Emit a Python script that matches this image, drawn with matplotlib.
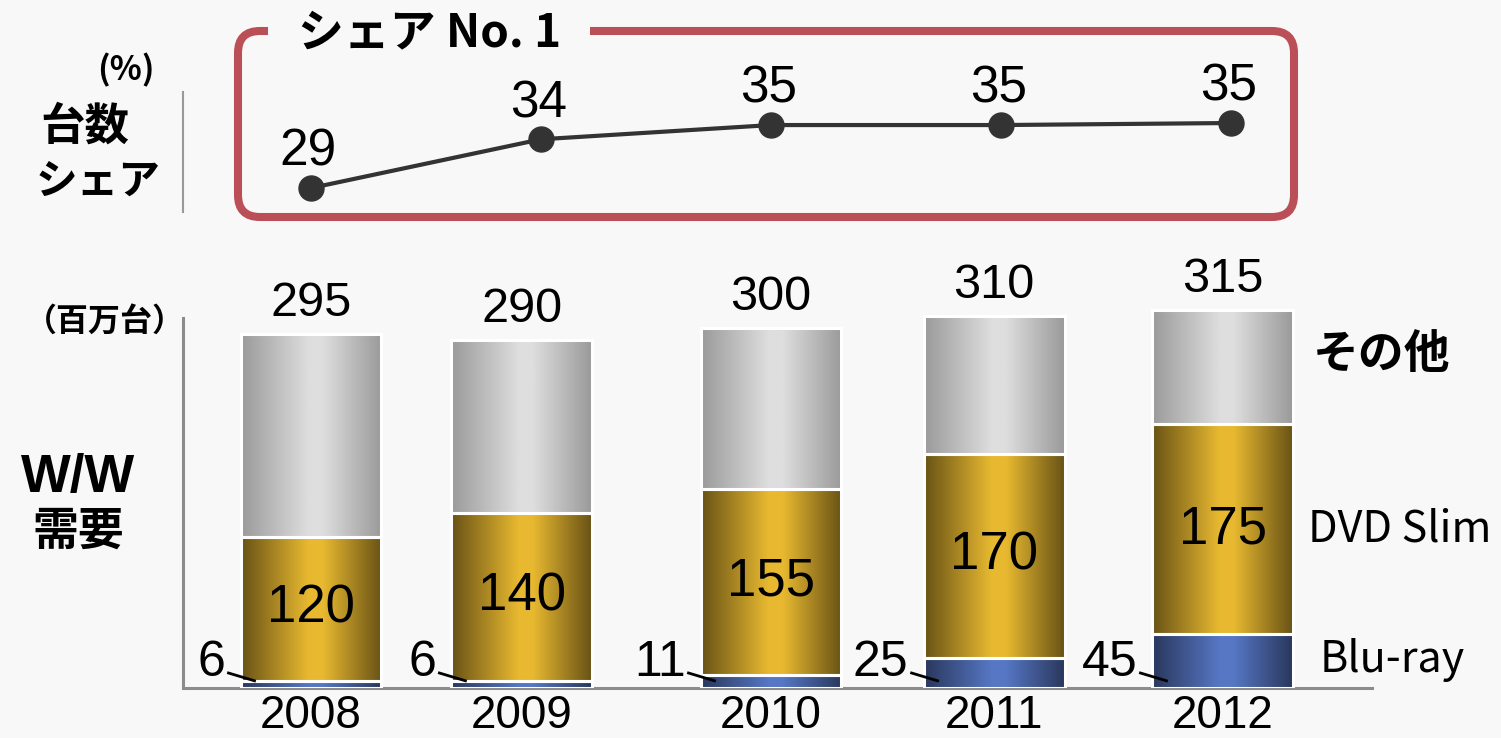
import numpy as np
import matplotlib
matplotlib.use('Agg')
import matplotlib.pyplot as plt
from matplotlib.colors import LinearSegmentedColormap
from matplotlib.patches import FancyBboxPatch, Rectangle
from matplotlib.lines import Line2D
from matplotlib.transforms import IdentityTransform

# data
years = ['2008', '2009', '2010', '2011', '2012']
share = [29.0, 33.8, 35.2, 35.2, 35.4]          # unit share (%)
bluray = [6, 6, 11, 25, 45]                      # million units
dvd_slim = [120, 140, 155, 170, 175]
total = [295, 290, 300, 310, 315]
others = [t - b - d for t, b, d in zip(total, bluray, dvd_slim)]

W, H = 1501, 738
BG = '#f8f8f8'
JP = ['Noto Sans CJK JP', 'DejaVu Sans']
plt.rcParams['font.family'] = ['Liberation Sans', 'Noto Sans CJK JP', 'DejaVu Sans']


def fx(x):
    return x / W


def fy(y):
    return 1 - y / H


def grad_cmap(name, dark, light):
    return LinearSegmentedColormap.from_list(
        name, [(0, dark), (0.48, light), (0.58, light), (1, dark)])


cm_blue = grad_cmap('blue', '#29375c', '#5677c4')
cm_gold = grad_cmap('gold', '#685216', '#e8b930')
cm_gray = grad_cmap('gray', '#9a9a9a', '#dedede')

fig = plt.figure(figsize=(W / 100, H / 100), dpi=100, facecolor=BG)

# layout of the bars (spacing is uneven in the original)
xpos = [0, 0.917, 2.0, 2.97, 3.965]
bw = 0.613
xlim = (-0.5565, 4.613)

# ---- stacked bars ----
ax = fig.add_axes([fx(183), fy(688), fx(1372) - fx(183), (688 - 250) / H])
ax.set_facecolor('none')

grad = np.linspace(0, 1, 256).reshape(1, -1)
bottoms = np.zeros(len(years))
for vals, cmap in [(bluray, cm_blue), (dvd_slim, cm_gold), (others, cm_gray)]:
    bars = ax.bar(xpos, vals, bw, bottom=bottoms, facecolor='none',
                  edgecolor='white', linewidth=2.2, zorder=3)
    for b in bars:
        im = ax.imshow(grad, cmap=cmap, aspect='auto', zorder=2,
                       extent=[b.get_x(), b.get_x() + b.get_width(),
                               b.get_y(), b.get_y() + b.get_height()])
        im.set_clip_path(b)
    bottoms += np.array(vals)

ax.set_xlim(*xlim)
ax.set_ylim(0, 365)

for i, x in enumerate(xpos):
    ax.annotate(str(total[i]), (x, total[i]), xytext=(0, 6),
                textcoords='offset points', ha='center', va='bottom', fontsize=35)
    ax.text(x, bluray[i] + dvd_slim[i] / 2, str(dvd_slim[i]),
            ha='center', va='center', fontsize=38, zorder=5)
    left = x - bw / 2
    ax.plot([left - 12 / 230, left + 14 / 230], [12.5, 6], color='black', lw=2, zorder=5)
    ax.text(left - 15 / 230, 21, str(bluray[i]), ha='right', va='center', fontsize=36)

ax.set_xticks(xpos)
ax.set_xticklabels(years, fontsize=33)
ax.tick_params(axis='x', length=0, pad=4)
ax.set_yticks([])
for s in ['top', 'right']:
    ax.spines[s].set_visible(False)
for s in ['left', 'bottom']:
    ax.spines[s].set_color('#8c8c8c')
    ax.spines[s].set_linewidth(2.2)
ax.spines['left'].set_bounds(0, 308)

# ---- share line ----
ax2 = fig.add_axes([fx(183), fy(230), fx(1372) - fx(183), (230 - 20) / H])
ax2.set_xlim(*xlim)
ax2.set_ylim(24.87, 45.54)
ax2.axis('off')
ax2.plot(range(len(share)), share, color='#333333', lw=3, marker='o', ms=18, zorder=3)
for i, v in enumerate(share):
    ax2.annotate(f'{v:.0f}', (i, v), xytext=(-2, 16), textcoords='offset points',
                 ha='center', va='baseline', fontsize=37)

# rounded red frame with title
frame = FancyBboxPatch((238, H - 217), 1294 - 238, 217 - 31,
                       boxstyle='round,pad=0,rounding_size=22',
                       transform=IdentityTransform(), fill=False,
                       edgecolor='#bb4f57', lw=5.8, zorder=1)
fig.add_artist(frame)
fig.add_artist(Rectangle((268, H - 45), 590 - 268, 25, transform=IdentityTransform(),
                         facecolor=BG, edgecolor='none', zorder=2))
fig.text(fx(298), fy(33), 'シェア No. 1', family=JP, fontsize=33,
         weight='bold', ha='left', va='center', zorder=3)

# left side labels
fig.text(fx(126), fy(70), '(%)', family=JP, fontsize=24, weight='bold', ha='center', va='center')
fig.text(fx(85), fy(127), '台数', family=JP, fontsize=32, weight='bold', ha='center', va='center')
fig.text(fx(98), fy(182), 'シェア', family=JP, fontsize=30, weight='bold', ha='center', va='center')
fig.add_artist(Line2D([fx(183), fx(183)], [fy(92), fy(212)], color='#999999', lw=1.5))

fig.text(fx(105), fy(322), '（百万台）', family=JP, fontsize=23, weight='bold', ha='center', va='center')
fig.text(fx(78), fy(478), 'W/W', fontsize=38, weight='bold', ha='center', va='center')
fig.text(fx(78), fy(532), '需要', family=JP, fontsize=33, weight='bold', ha='center', va='center')

# series labels on the right
fig.text(fx(1313), fy(355), 'その他', family=JP, fontsize=33, weight='bold', ha='left', va='center')
fig.text(fx(1308), fy(530), 'DVD Slim', family=JP, fontsize=31, ha='left', va='center')
fig.text(fx(1320), fy(660), 'Blu-ray', family=JP, fontsize=31, ha='left', va='center')

fig.savefig('out.png', dpi=100, facecolor=BG)
